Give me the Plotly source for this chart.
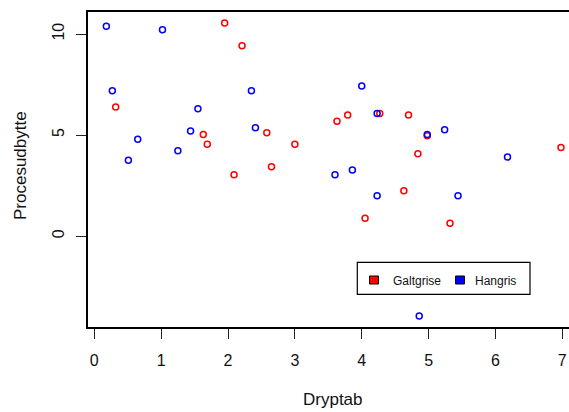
import plotly.graph_objects as go

# Galtgrise (red) and Hangris (blue): Dryptab vs Procesudbytte
galt_x = [1.95, 2.21, 0.32, 1.63, 2.58, 1.69, 3.00, 2.65, 2.09, 4.27,
          3.63, 3.79, 4.70, 4.98, 6.98, 4.84, 4.63, 4.05, 5.32]
galt_y = [10.54, 9.42, 6.39, 5.03, 5.11, 4.55, 4.55, 3.43, 3.03, 6.07,
          5.68, 5.99, 5.99, 4.97, 4.39, 4.07, 2.24, 0.88, 0.63]

hang_x = [0.18, 1.02, 0.27, 2.35, 1.55, 1.44, 2.41, 0.65, 1.25, 0.51,
          4.00, 4.23, 4.98, 5.24, 6.18, 3.86, 3.60, 4.23, 5.44, 4.86]
hang_y = [10.38, 10.21, 7.19, 7.19, 6.30, 5.20, 5.36, 4.79, 4.22, 3.75,
          7.43, 6.07, 5.03, 5.26, 3.91, 3.27, 3.03, 2.00, 2.00, -3.95]

x_ticks = [0, 1, 2, 3, 4, 5, 6, 7]
y_ticks = [0, 5, 10]
series_names = ["Galtgrise", "Hangris"]
series_colors = ["#FF0000", "#0000FF"]

W, H = 569, 412
ML, MR, MT, MB = 88, 0, 12, 85
FONT = "Liberation Sans, Arial, Helvetica, sans-serif"


def px(xp):
    return (xp - ML) / (W - ML - MR)


def py(yp):
    return (H - MB - yp) / (H - MT - MB)


fig = go.Figure()
for xs, ys, name, col in [(galt_x, galt_y, series_names[0], series_colors[0]),
                          (hang_x, hang_y, series_names[1], series_colors[1])]:
    fig.add_trace(go.Scatter(
        x=xs, y=ys, mode="markers", name=name, showlegend=False,
        marker=dict(symbol="circle-open", size=6, color=col,
                    line=dict(width=1.5, color=col)),
    ))

axis_common = dict(
    showgrid=False, zeroline=False, showline=True, linecolor="black",
    linewidth=1.5, ticks="outside", ticklen=10, tickwidth=1.3,
    tickcolor="#222", tickfont=dict(family=FONT, size=16, color="#111"),
)
fig.update_xaxes(range=[-0.094, 7.10], tickvals=x_ticks, mirror=True,
                 ticklabelstandoff=8, **axis_common)
fig.update_yaxes(range=[-4.50, 11.09], tickvals=y_ticks, mirror=False,
                 tickangle=-90, ticklabelstandoff=6, **axis_common)

# legend box with coloured keys
shapes = [dict(type="rect", xref="paper", yref="paper",
               x0=px(357.3), x1=px(530), y0=py(294.3), y1=py(262.3),
               line=dict(color="black", width=1.2), fillcolor="white")]
annotations = []
key_left = [369.5, 455.5]
text_left = [391, 473.3]
for i, name in enumerate(series_names):
    shapes.append(dict(type="rect", xref="paper", yref="paper",
                       x0=px(key_left[i]), x1=px(key_left[i] + 9),
                       y0=py(284), y1=py(276),
                       line=dict(color="black", width=1),
                       fillcolor=series_colors[i]))
    annotations.append(dict(text=name, xref="paper", yref="paper",
                            x=px(text_left[i]), y=py(281), xanchor="left",
                            yanchor="middle", showarrow=False,
                            font=dict(family=FONT, size=12, color="#111")))

annotations.append(dict(text="Dryptab", xref="paper", yref="paper",
                        x=px(333), y=py(399), xanchor="center",
                        yanchor="middle", showarrow=False,
                        font=dict(family=FONT, size=17, color="#111")))
annotations.append(dict(text="Procesudbytte", xref="paper", yref="paper",
                        x=px(20), y=py(166), xanchor="center",
                        yanchor="middle", textangle=-90, showarrow=False,
                        font=dict(family=FONT, size=17, color="#111")))

fig.update_layout(
    width=W, height=H, margin=dict(l=ML, r=MR, t=MT, b=MB),
    plot_bgcolor="white", paper_bgcolor="white",
    shapes=shapes, annotations=annotations, showlegend=False,
)

fig.write_html("out.html")
